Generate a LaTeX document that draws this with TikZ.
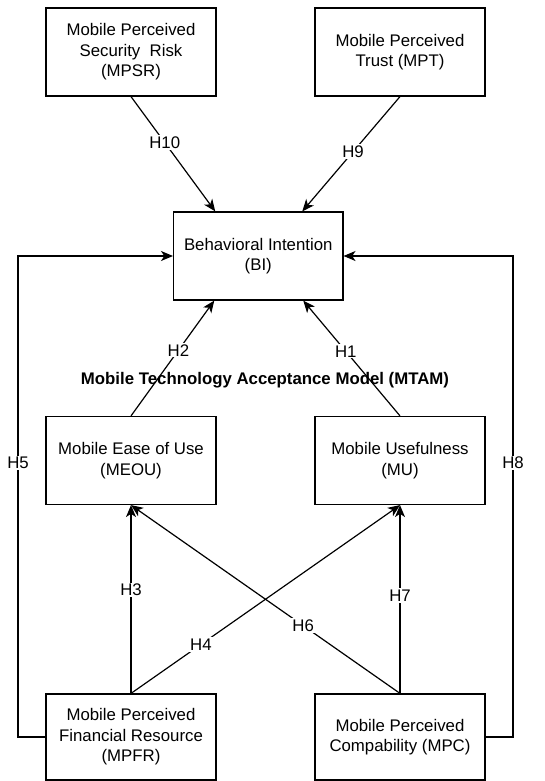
\documentclass[tikz,border=0pt]{standalone}
\usepackage{fontspec}
\setmainfont{Liberation Sans}
\usetikzlibrary{arrows.meta,calc}
\begin{document}
\begin{tikzpicture}[x=0.75pt,y=-0.75pt,
  box/.style={draw, line width=0.9pt, minimum width=127.5pt, minimum height=66pt, inner sep=0pt, align=center, font=\fontsize{12.6}{15.4}\selectfont},
  arr/.style={line width=0.9pt, -{Stealth[length=9pt,width=7.5pt,inset=2.5pt]}},
  lbl/.style={fill=white, inner sep=1pt, font=\fontsize{12.6}{15}\selectfont}]
\useasboundingbox (0,0) rectangle (544,781);
\node[box] (MPSR) at (131,52) {Mobile Perceived\\Security\ \ Risk\\(MPSR)};
\node[box] (MPT) at (400,52) {Mobile Perceived\\Trust (MPT)};
\node[box, minimum width=127pt] (BI) at (258.25,256) {Behavioral Intention\\(BI)};
\node[box] (MEOU) at (131,460.5) {Mobile Ease of Use\\(MEOU)};
\node[box] (MU) at (400,460.5) {Mobile Usefulness\\(MU)};
\node[box, minimum height=64.5pt] (MPFR) at (131,737) {Mobile Perceived\\Financial Resource\\(MPFR)};
\node[box, minimum height=64.5pt] (MPC) at (400,737) {Mobile Perceived\\Compability (MPC)};
\node[font=\bfseries\fontsize{12.6}{15}\selectfont] (MTAM) at (265,380) {Mobile Technology Acceptance Model (MTAM)};
\coordinate (BItl) at ($(BI.north)+(-43,0)$);
\coordinate (BItr) at ($(BI.north)+(44,0)$);
\coordinate (BIbl) at ($(BI.south)+(-44,0)$);
\coordinate (BIbr) at ($(BI.south)+(45,0)$);
\coordinate (L1) at (18,737);
\coordinate (L2) at (18,256);
\coordinate (R1) at (513,737);
\coordinate (R2) at (513,256);
\draw[arr] (MPSR.south) -- node[lbl,pos=0.4]{H10} (BItl);
\draw[arr] (MPT.south) -- node[lbl,pos=0.48]{H9} (BItr);
\draw[arr] (MEOU.north) -- node[lbl,pos=0.57]{H2} (BIbl);
\draw[arr] (MU.north) -- node[lbl,pos=0.56]{H1} (BIbr);
\draw[arr] (MPFR.north) -- node[lbl,pos=0.55]{H3} (MEOU.south);
\draw[arr] (MPFR.north) -- node[lbl,pos=0.26]{H4} (MU.south);
\draw[arr] (MPC.north) -- node[lbl,pos=0.36]{H6} (MEOU.south);
\draw[arr] (MPC.north) -- node[lbl,pos=0.52]{H7} (MU.south);
\draw[arr] (MPFR.west) -- (L1) -- node[lbl,pos=0.57]{H5} (L2) -- (BI.west);
\draw[arr] (MPC.east) -- (R1) -- node[lbl,pos=0.57]{H8} (R2) -- (BI.east);
\end{tikzpicture}
\end{document}
